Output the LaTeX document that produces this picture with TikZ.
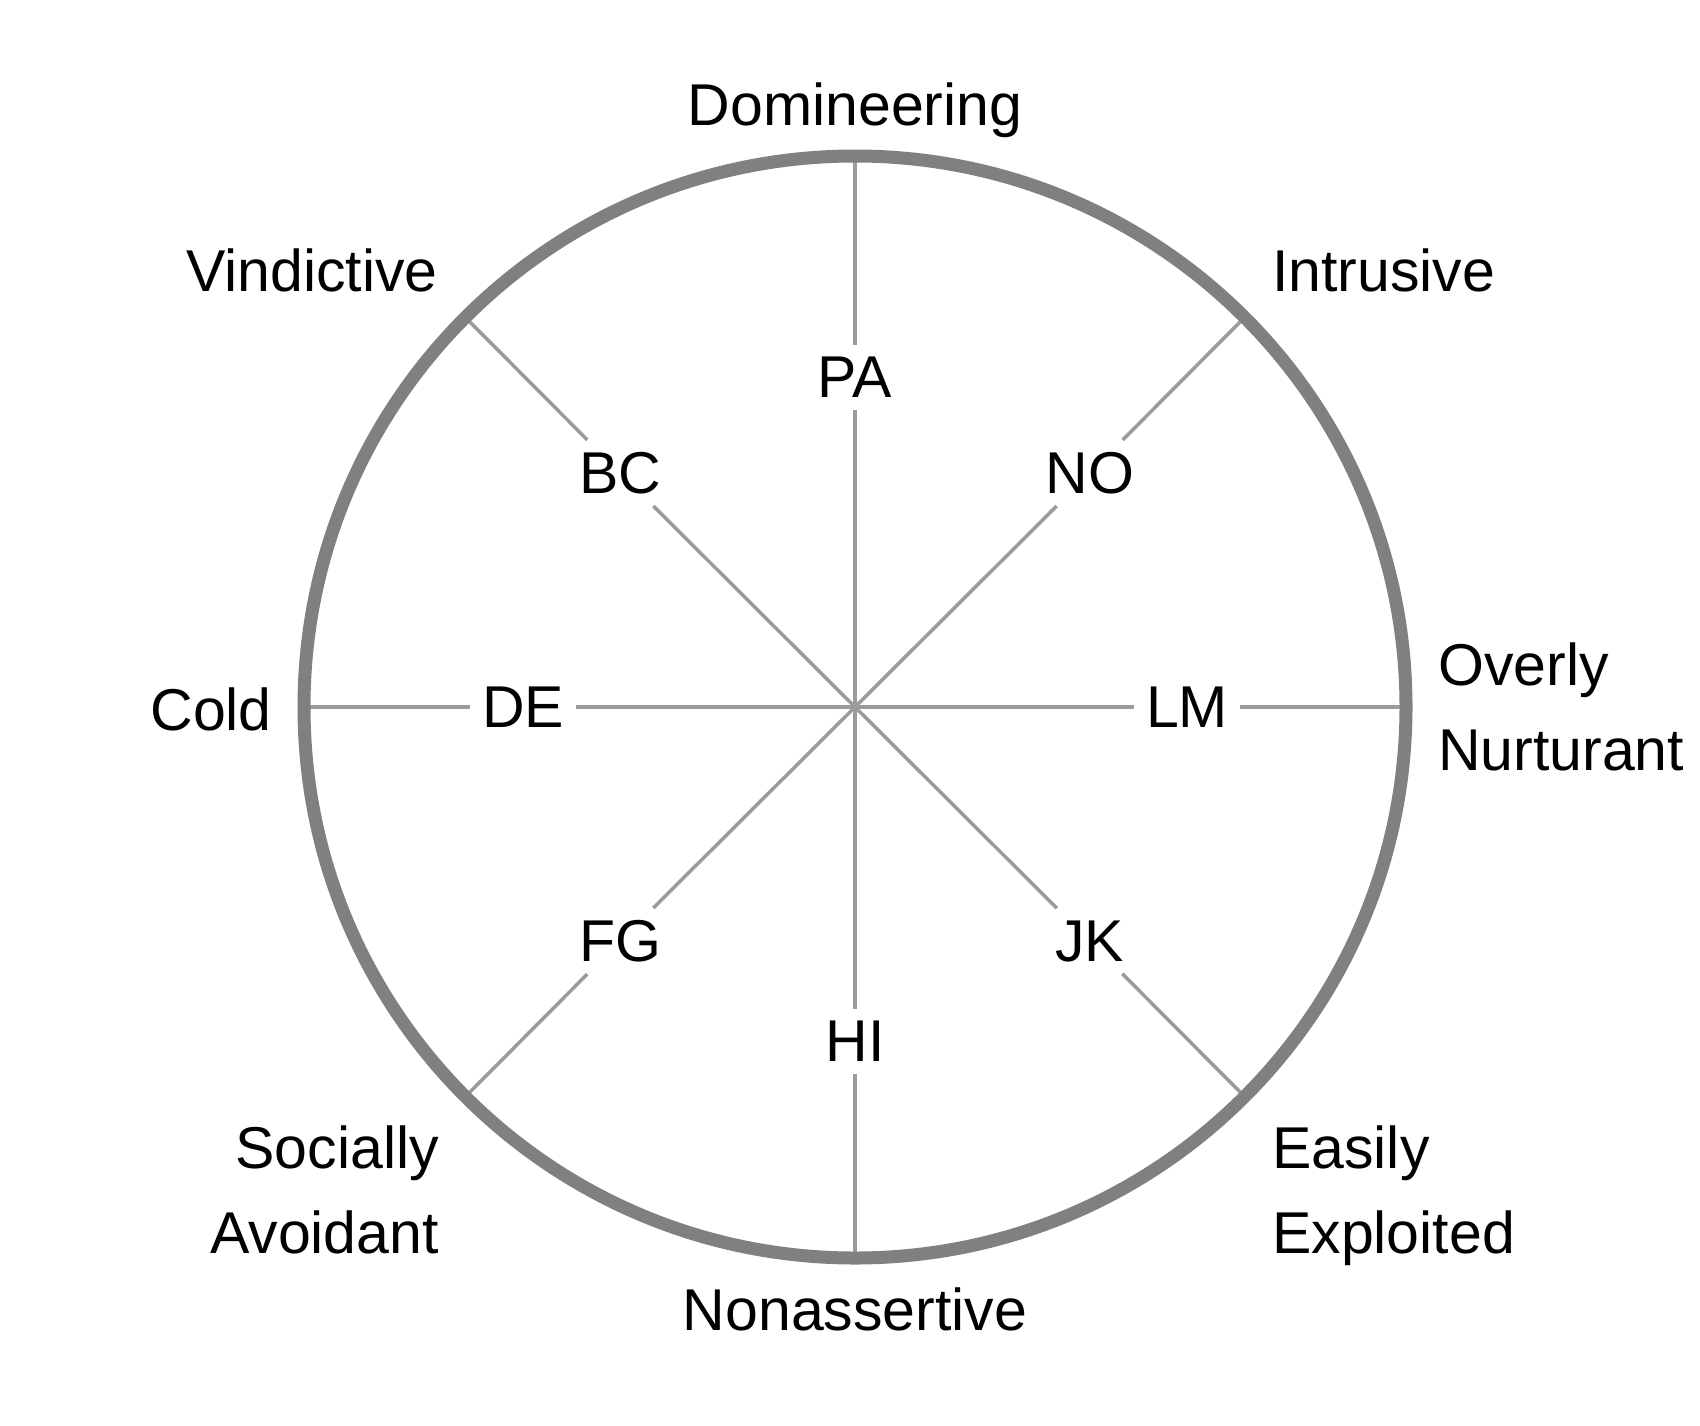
\documentclass[tikz,border=0pt]{standalone}
\usepackage{fontspec}
\setmainfont{Liberation Sans}
\definecolor{ringgray}{RGB}{128,128,128}
\definecolor{spokegray}{RGB}{155,155,155}
\begin{document}
\begin{tikzpicture}[x=1pt,y=-1pt,
  ring/.style={draw=ringgray,line width=13pt},
  spoke/.style={draw=spokegray,line width=3.5pt},
  inlab/.style={font=\fontsize{59}{70}\selectfont,inner sep=12pt},
  outlab/.style={font=\fontsize{59}{70}\selectfont,inner sep=0pt}]
\useasboundingbox (0,0) rectangle (1700,1425);
\coordinate (c) at (855,707);
% points on the ring
\coordinate (pN) at (855,156);
\coordinate (pS) at (855,1258);
\coordinate (pW) at (304,707);
\coordinate (pE) at (1406,707);
\coordinate (pNE) at (1244.6,317.4);
\coordinate (pNW) at (465.4,317.4);
\coordinate (pSE) at (1244.6,1096.6);
\coordinate (pSW) at (465.4,1096.6);
% inner labels
\node[inlab] (PA) at (855,377) {PA};
\node[inlab] (HI) at (855,1041) {HI};
\node[inlab] (DE) at (523,707) {DE};
\node[inlab] (LM) at (1187,707) {LM};
\node[inlab] (BC) at (620.2,473) {BC};
\node[inlab] (NO) at (1089.8,473) {NO};
\node[inlab] (FG) at (620.2,941) {FG};
\node[inlab] (JK) at (1089.8,941) {JK};
% spokes
\foreach \n/\p in {PA/pN,HI/pS,DE/pW,LM/pE,BC/pNW,NO/pNE,FG/pSW,JK/pSE}{
  \draw[spoke] (c) -- (\n);
  \draw[spoke] (\n) -- (\p);
}
% ring
\draw[ring] (c) circle[radius=551];
% outer labels
\node[outlab,anchor=base] (dom) at (855,125) {Domineering};
\node[outlab,anchor=base] (non) at (855,1330) {Nonassertive};
\node[outlab,anchor=base east] (vin) at (438,291) {Vindictive};
\node[outlab,anchor=base west] (intr) at (1272,291) {Intrusive};
\node[outlab,anchor=base east] (cold) at (272,730) {Cold};
\node[outlab,anchor=base west] (ov1) at (1438,685) {Overly};
\node[outlab,anchor=base west] (ov2) at (1438,770) {Nurturant};
\node[outlab,anchor=base east] (so1) at (439,1168) {Socially};
\node[outlab,anchor=base east] (so2) at (439,1253) {Avoidant};
\node[outlab,anchor=base west] (ea1) at (1272,1168) {Easily};
\node[outlab,anchor=base west] (ea2) at (1272,1253) {Exploited};
\end{tikzpicture}
\end{document}
